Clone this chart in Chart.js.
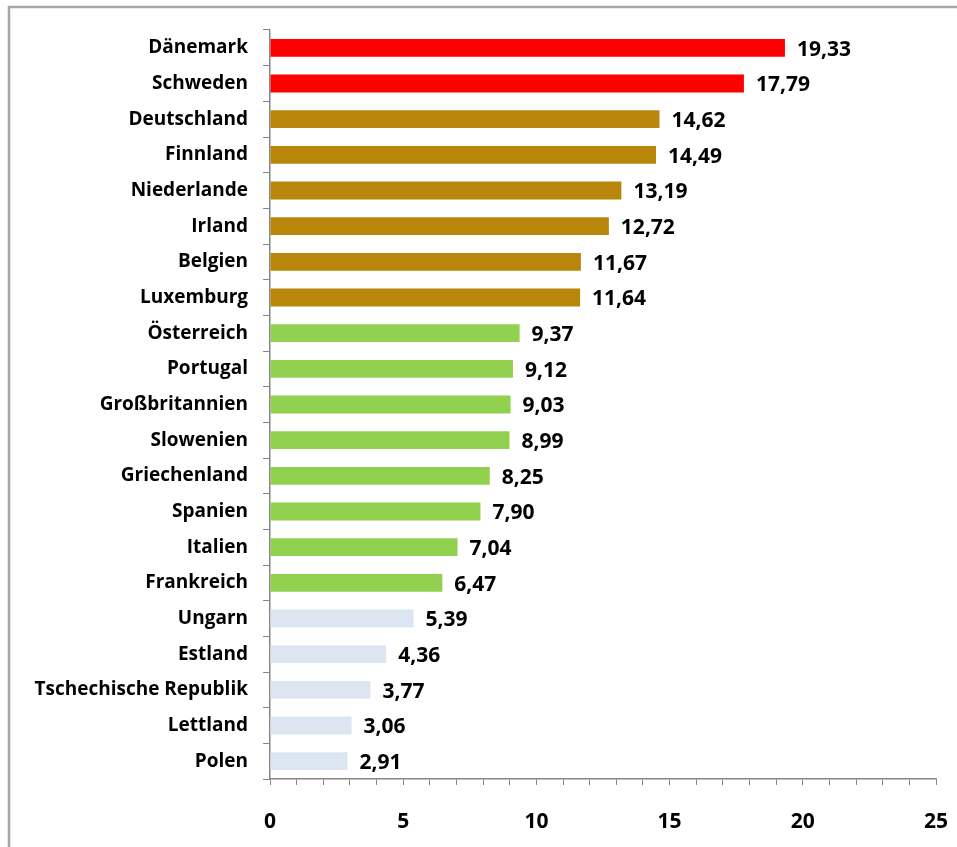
<!DOCTYPE html>
<html lang="de">
<head>
<meta charset="utf-8">
<title>Länder-Ranking</title>
<script src="https://cdn.jsdelivr.net/npm/chart.js@4/dist/chart.umd.min.js"></script>
<style>
    html, body { margin: 0; padding: 0; background: #ffffff; }
    #wrap { position: relative; width: 957px; height: 847px; }
</style>
</head>
<body>
<div id="wrap"><canvas id="chart"></canvas></div>
<script>
// Countries, top to bottom
const countries = [
    'Dänemark', 'Schweden', 'Deutschland', 'Finnland', 'Niederlande', 'Irland',
    'Belgien', 'Luxemburg', 'Österreich', 'Portugal', 'Großbritannien', 'Slowenien',
    'Griechenland', 'Spanien', 'Italien', 'Frankreich', 'Ungarn', 'Estland',
    'Tschechische Republik', 'Lettland', 'Polen'
];
const values = [
    19.33, 17.79, 14.62, 14.49, 13.19, 12.72,
    11.67, 11.64, 9.37, 9.12, 9.03, 8.99,
    8.25, 7.90, 7.04, 6.47, 5.39, 4.36,
    3.77, 3.06, 2.91
];
// group index per country: 0 = top, 1 = upper, 2 = middle, 3 = lower
const groups = [0, 0, 1, 1, 1, 1, 1, 1, 2, 2, 2, 2, 2, 2, 2, 2, 3, 3, 3, 3, 3];
const groupColors = ['#ff0000', '#b8860b', '#92d050', '#dce6f2'];
const xTicks = [0, 5, 10, 15, 20, 25];

const FONT = '"Open Sans", Lato, sans-serif';
const AXIS_GREY = '#868686';

// values printed German-style with a decimal comma
function fmt(v) {
    return v.toFixed(2).replace('.', ',');
}

// outer frame around the chart
const framePlugin = {
    id: 'frame',
    beforeDraw(chart) {
        const ctx = chart.ctx;
        ctx.save();
        ctx.fillStyle = '#ffffff';
        ctx.fillRect(0, 0, chart.width, chart.height);
        ctx.strokeStyle = '#a6a6a6';
        ctx.lineWidth = 2.5;
        ctx.strokeRect(9, 7, chart.width + 20, chart.height + 20);
        ctx.restore();
    }
};

// value labels to the right of each bar
const valueLabels = {
    id: 'valueLabels',
    afterDatasetsDraw(chart) {
        const ctx = chart.ctx;
        const meta = chart.getDatasetMeta(0);
        ctx.save();
        ctx.font = 'bold 21px ' + FONT;
        ctx.fillStyle = '#000000';
        ctx.textAlign = 'left';
        ctx.textBaseline = 'middle';
        meta.data.forEach((bar, i) => {
            ctx.fillText(fmt(values[i]), bar.x + 12, bar.y + 2);
        });
        ctx.restore();
    }
};

const ctx = document.getElementById('chart').getContext('2d');
new Chart(ctx, {
    type: 'bar',
    data: {
        labels: countries,
        datasets: [{
            data: values,
            backgroundColor: groups.map(g => groupColors[g]),
            borderWidth: 0,
            categoryPercentage: 1,
            barPercentage: 0.5
        }]
    },
    options: {
        indexAxis: 'y',
        responsive: true,
        maintainAspectRatio: false,
        animation: false,
        layout: { padding: { top: 30, right: 21, bottom: 0, left: 0 } },
        plugins: {
            legend: { display: false },
            tooltip: { enabled: false }
        },
        scales: {
            x: {
                min: xTicks[0],
                max: xTicks[xTicks.length - 1],
                afterFit(scale) {
                    scale.height = 68;
                    // the last label may hang into the layout padding
                    scale.paddingRight = 0;
                },
                border: { color: AXIS_GREY, width: 1.5 },
                grid: {
                    drawOnChartArea: false,
                    color: AXIS_GREY,
                    tickLength: 6
                },
                ticks: {
                    stepSize: 1,
                    autoSkip: false,
                    maxRotation: 0,
                    padding: 24,
                    color: '#000000',
                    font: { family: FONT, size: 21, weight: 'bold' },
                    callback: v => (xTicks.includes(v) ? String(v) : '')
                }
            },
            y: {
                afterFit(scale) { scale.width = 270; },
                border: { color: AXIS_GREY, width: 1.5 },
                grid: {
                    drawOnChartArea: false,
                    color: AXIS_GREY,
                    tickLength: 7
                },
                ticks: {
                    autoSkip: false,
                    padding: 15,
                    color: '#000000',
                    font: { family: FONT, size: 19, weight: 'bold' }
                }
            }
        }
    },
    plugins: [framePlugin, valueLabels]
});
</script>
</body>
</html>
